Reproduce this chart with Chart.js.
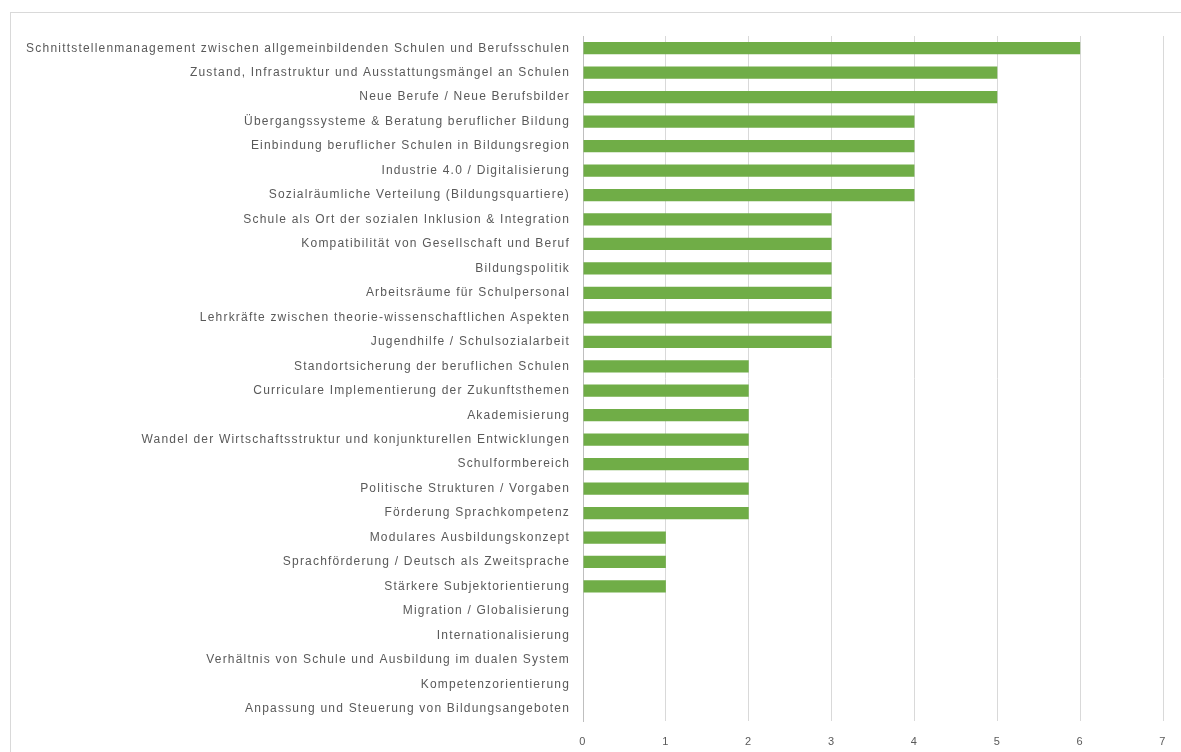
<!DOCTYPE html>
<html>
<head>
<meta charset="utf-8">
<script src="https://cdn.jsdelivr.net/npm/chart.js@4"></script>
<style>
    html, body { margin: 0; padding: 0; background: #fff; overflow: hidden; }
    #wrap { position: relative; width: 1181px; height: 752px; }
    #frame { position: absolute; left: 10px; top: 12px; width: 1400px; height: 1000px;
             border: 1px solid #d9d9d9; pointer-events: none; }
</style>
</head>
<body>
<div id="wrap">
    <canvas id="chart" width="1181" height="752"></canvas>
    <div id="frame"></div>
</div>
<script>
    const categories = [
        'Schnittstellenmanagement zwischen allgemeinbildenden Schulen und Berufsschulen',
        'Zustand, Infrastruktur und Ausstattungsmängel an Schulen',
        'Neue Berufe / Neue Berufsbilder',
        'Übergangssysteme & Beratung beruflicher Bildung',
        'Einbindung beruflicher Schulen in Bildungsregion',
        'Industrie 4.0 / Digitalisierung',
        'Sozialräumliche Verteilung (Bildungsquartiere)',
        'Schule als Ort der sozialen Inklusion & Integration',
        'Kompatibilität von Gesellschaft und Beruf',
        'Bildungspolitik',
        'Arbeitsräume für Schulpersonal',
        'Lehrkräfte zwischen theorie-wissenschaftlichen Aspekten',
        'Jugendhilfe / Schulsozialarbeit',
        'Standortsicherung der beruflichen Schulen',
        'Curriculare Implementierung der Zukunftsthemen',
        'Akademisierung',
        'Wandel der Wirtschaftsstruktur und konjunkturellen Entwicklungen',
        'Schulformbereich',
        'Politische Strukturen / Vorgaben',
        'Förderung Sprachkompetenz',
        'Modulares Ausbildungskonzept',
        'Sprachförderung / Deutsch als Zweitsprache',
        'Stärkere Subjektorientierung',
        'Migration / Globalisierung',
        'Internationalisierung',
        'Verhältnis von Schule und Ausbildung im dualen System',
        'Kompetenzorientierung',
        'Anpassung und Steuerung von Bildungsangeboten'
    ];
    const counts = [6, 5, 5, 4, 4, 4, 4, 3, 3, 3, 3, 3, 3, 2, 2, 2, 2, 2, 2, 2, 1, 1, 1, 0, 0, 0, 0, 0];
    const xTicks = [0, 1, 2, 3, 4, 5, 6, 7];

    const textColor = '#595959';
    const font = { family: 'Liberation Sans', size: 12 };

    // the labels in the original are spaced out a bit
    const spacing = {
        id: 'spacing',
        beforeInit(chart) { chart.ctx.letterSpacing = '1.2px'; },
        beforeDraw(chart) { chart.ctx.letterSpacing = '1.2px'; }
    };

    new Chart(document.getElementById('chart'), {
        type: 'bar',
        data: {
            labels: categories,
            datasets: [{
                data: counts,
                backgroundColor: '#70ad47',
                borderWidth: 0,
                barPercentage: 0.5,
                categoryPercentage: 1.0
            }]
        },
        plugins: [spacing],
        options: {
            indexAxis: 'y',
            responsive: false,
            animation: false,
            layout: { padding: { left: 10, top: 36, right: 18, bottom: 0 } },
            plugins: { legend: { display: false }, tooltip: { enabled: false } },
            scales: {
                x: {
                    min: xTicks[0],
                    max: xTicks[xTicks.length - 1],
                    afterBuildTicks: scale => { scale.ticks = xTicks.map(v => ({ value: v })); },
                    afterFit: scale => { scale.height = 31; },
                    grid: { color: '#d9d9d9', drawTicks: false },
                    border: { display: false },
                    ticks: { color: textColor, font: { family: 'Liberation Sans', size: 11 }, padding: 14 }
                },
                y: {
                    afterFit: scale => { scale.width = 573; },
                    grid: { display: false, drawTicks: false },
                    border: { color: '#bfbfbf' },
                    ticks: { color: textColor, font: font, padding: 13, autoSkip: false }
                }
            }
        }
    });
</script>
</body>
</html>
